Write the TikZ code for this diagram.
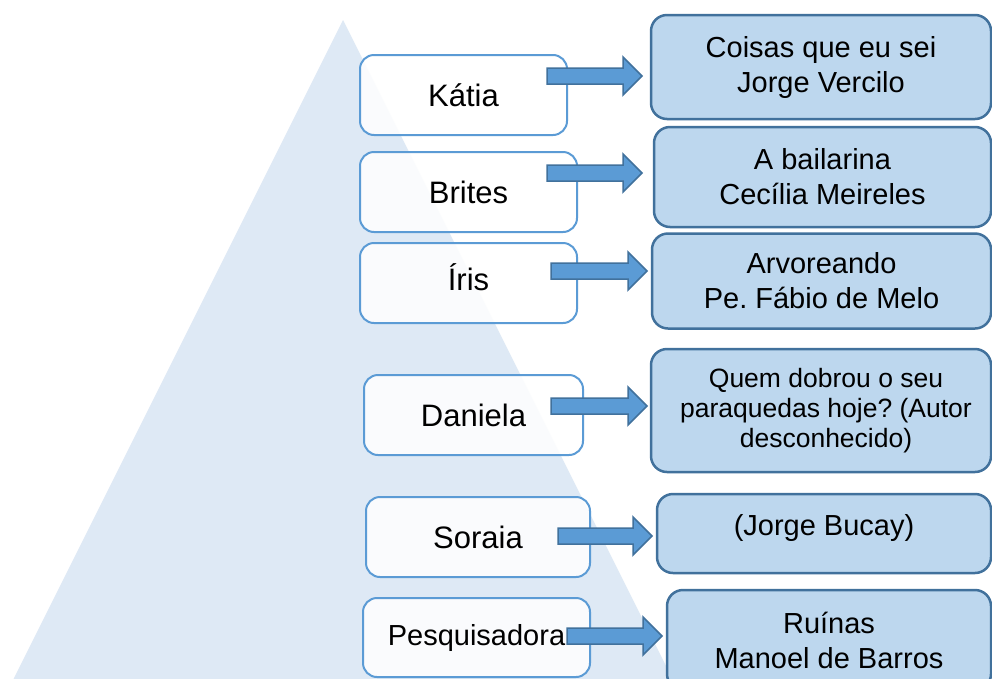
\documentclass[tikz,border=0pt]{standalone}
\usepackage{fontspec}
\setmainfont{Liberation Sans}
\frenchspacing
\begin{document}
\begin{tikzpicture}[x=1pt,y=-1pt,
  leftbox/.style={draw=leftblue,line width=2pt,fill=white,fill opacity=0.85,text opacity=1,
    rounded corners=14pt,minimum height=80pt,inner sep=0pt,font=\fontsize{31}{36}\selectfont},
  rightbox/.style={draw=rightborder,line width=2.5pt,fill=rightfill,rounded corners=16pt,
    inner sep=0pt,align=center,font=\fontsize{29}{35}\selectfont},
  blockarrow/.style={draw=rightborder,line width=1.5pt,fill=arrowfill}]
\frenchspacing
\definecolor{leftblue}{HTML}{5B9BD5}
\definecolor{rightborder}{HTML}{41719C}
\definecolor{rightfill}{HTML}{BDD7EE}
\definecolor{arrowfill}{HTML}{5B9BD5}
\definecolor{pyramid}{HTML}{DEE9F5}
\newcommand\blkarrow[3]{%
  \draw[blockarrow] (#1,#3-8) -- (#2-19,#3-8) -- (#2-19,#3-19) -- (#2,#3)
    -- (#2-19,#3+19) -- (#2-19,#3+8) -- (#1,#3+8) -- cycle;}
\useasboundingbox (0,0) rectangle (992,678);
\clip (0,0) rectangle (992,678);
\fill[white] (0,0) rectangle (992,678);
% pyramid
\fill[pyramid] (343,20) -- (683,700) -- (3,700) -- cycle;
% left boxes
\node[leftbox,minimum width=207pt] (katia) at (463.5,95) {Kátia};
\node[leftbox,minimum width=217pt] (brites) at (468.5,192) {Brites};
\node[leftbox,minimum width=217pt,text depth=12pt] (iris) at (468.5,283) {Íris};
\node[leftbox,minimum width=219pt] (daniela) at (473.5,415) {Daniela};
\node[leftbox,minimum width=224pt] (soraia) at (478,537) {Soraia};
\node[leftbox,minimum width=227pt,minimum height=79pt,font=\fontsize{29}{34}\selectfont] (pesq) at (476.5,637.5) {Pesquisadora};
% right boxes
\node[rightbox,minimum width=340pt,minimum height=104pt] (r1) at (821,67) {Coisas que eu sei\\Jorge Vercilo};
\node[rightbox,minimum width=337pt,minimum height=100pt] (r2) at (822.5,177) {A bailarina\\Cecília Meireles};
\node[rightbox,minimum width=339pt,minimum height=95pt] (r3) at (821.5,281) {Arvoreando\\Pe. Fábio de Melo};
\node[rightbox,minimum width=340pt,minimum height=123pt,font=\fontsize{26.5}{30}\selectfont] (r4) at (821,410.5) {\hspace*{10pt}Quem dobrou o seu\\\hspace*{10pt}paraquedas hoje? (Autor\\\hspace*{10pt}desconhecido)};
\node[rightbox,minimum width=334pt,minimum height=79pt,text depth=18pt] (r5) at (824,533.5) {(Jorge Bucay)};
\node[rightbox,minimum width=324pt,minimum height=100pt] (r6) at (829,640) {Ruínas\\Manoel de Barros};
% block arrows
\blkarrow{547}{642}{76}
\blkarrow{547}{642}{173}
\blkarrow{551}{647}{271}
\blkarrow{551}{647}{406}
\blkarrow{558}{652}{536}
\blkarrow{567}{662}{636}
\end{tikzpicture}
\end{document}
